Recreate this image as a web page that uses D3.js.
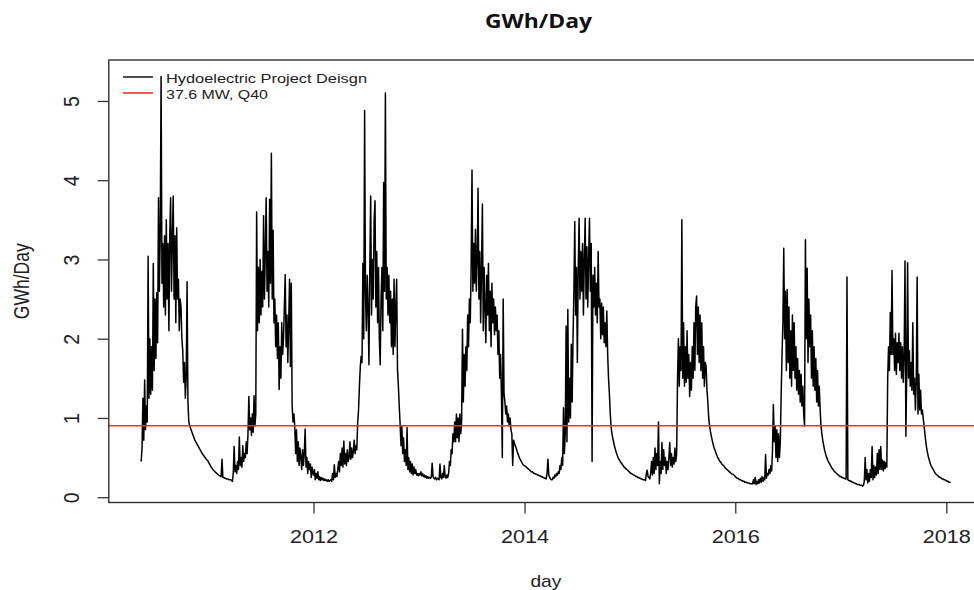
<!DOCTYPE html>
<html>
<head>
<meta charset="utf-8">
<script src="https://cdn.jsdelivr.net/npm/d3@7"></script>
<style>
  body { margin: 0; background: #fff; }
  svg { display: block; }
</style>
</head>
<body>
<svg id="chart" width="974" height="590"></svg>
<script>
// ---- Data -------------------------------------------------------------
const chartTitle = "GWh/Day";
const xAxisTitle = "day";
const yAxisTitle = "GWh/Day";
const seriesName = "Hydoelectric Project Deisgn";
const thresholdName = "37.6 MW, Q40";
const capacityMW = 37.6;          // design capacity; daily energy = MW * 24 h
const stepDays = 3;               // spacing of the samples within each segment

// Daily energy (GWh/day), one value every 3 days from each segment start.
const segmentStarts = ["2010-05-14", "2011-01-01", "2012-01-01", "2013-01-01",
  "2014-01-01", "2015-01-01", "2016-01-01", "2017-01-01", "2018-01-01"];

const flow2010 = [0.45, 0.62, 1.25, 0.72, 1.48, 0.85,
  1.15, 0.95, 3.04, 1.25, 2.0, 1.3,
  1.9, 1.35, 2.95, 1.6, 2.5, 1.75, 2.58, 1.95,
  3.78, 2.6, 3.3, 5.31, 2.7, 3.2,
  2.4, 3.3, 2.3, 3.5, 2.5, 3.2, 2.1, 3.3, 3.78, 2.6, 3.25, 3.8, 2.5, 3.3, 2.2, 3.4, 2.5, 2.75, 2.1, 2.5,
  2.4, 2.0, 1.85, 1.45, 1.7, 1.25, 1.5, 2.72, 1.2, 0.95,
  0.9, 0.87, 0.84, 0.81, 0.78, 0.75, 0.72, 0.7, 0.68, 0.66, 0.64, 0.62, 0.6, 0.58, 0.56, 0.54, 0.53, 0.51, 0.5, 0.48, 0.47, 0.46];

const flow2011 = [0.45, 0.43, 0.41, 0.39, 0.37, 0.36, 0.34, 0.33, 0.32, 0.31, 0.3, 0.29, 0.28, 0.27, 0.27, 0.26,
  0.48, 0.25, 0.25, 0.24, 0.24, 0.23, 0.23, 0.23, 0.22, 0.22, 0.22, 0.21, 0.2,
  0.3, 0.64, 0.32, 0.4, 0.3, 0.45, 0.35, 0.76, 0.4, 0.5, 0.38, 0.65, 0.45, 0.55, 0.5, 0.7, 0.55,
  0.8, 1.27, 0.85, 1.0, 0.78, 1.05, 0.82, 1.28, 0.9, 1.05, 3.6,
  2.1, 2.9, 2.2, 3.0, 2.3, 2.85, 2.4, 3.55, 2.5, 3.1, 3.78, 2.6, 3.1, 2.4, 3.76, 2.7, 4.34, 2.5, 3.37,
  2.2, 2.5, 1.9, 2.3, 1.75, 2.2, 1.36, 1.9, 1.5, 2.2, 1.8,
  2.0, 2.4, 2.81, 1.9, 2.3, 1.7, 2.2, 2.75, 1.65, 2.7,
  1.15, 0.95, 1.05, 0.9,
  0.55, 0.85, 0.45, 0.7, 0.4, 0.62, 0.5, 0.35, 0.6, 0.4, 0.55, 0.86, 0.38, 0.5, 0.3, 0.45, 0.35, 0.42, 0.25, 0.38, 0.3];

const flow2012 = [0.28, 0.35, 0.22, 0.3, 0.24, 0.32, 0.22, 0.26, 0.21, 0.25, 0.22, 0.24, 0.21, 0.23, 0.21, 0.22, 0.2, 0.22, 0.2, 0.21,
  0.22, 0.2, 0.3, 0.22, 0.41, 0.25, 0.3, 0.26,
  0.35, 0.45, 0.32, 0.55, 0.4, 0.62, 0.38, 0.71, 0.42, 0.55, 0.4, 0.6, 0.45, 0.5, 0.7, 0.48, 0.62, 0.5, 0.58, 0.72, 0.55, 0.65, 0.6,
  0.94, 1.1, 1.4, 1.64, 1.78, 1.7,
  2.95, 2.0, 4.88, 2.6, 2.1, 2.8,
  2.4, 1.67, 2.9, 3.8, 2.3, 3.0, 2.5, 3.5, 3.74, 2.4, 3.1, 2.2, 2.9, 2.0, 1.67, 2.5, 2.9, 2.1, 3.97,
  2.6, 5.1, 2.5, 2.9, 2.3, 2.8, 2.2, 2.6, 1.9, 2.5, 1.8, 2.75, 1.9, 2.4, 2.75, 1.6,
  1.4, 1.15, 0.92, 0.65, 0.9, 0.55, 0.75, 0.45, 0.6, 0.4, 0.88, 0.35, 0.5, 0.32, 0.45,
  0.3, 0.42, 0.28, 0.38, 0.3, 0.35, 0.28, 0.3, 0.27];

const flow2013 = [0.3, 0.28, 0.32, 0.27, 0.3, 0.26, 0.28, 0.25, 0.27, 0.24, 0.26, 0.24, 0.25,
  0.24, 0.25, 0.43, 0.26, 0.24, 0.23, 0.25, 0.22, 0.24, 0.23, 0.22, 0.42, 0.25, 0.23, 0.3, 0.25, 0.4, 0.26, 0.24, 0.28, 0.25,
  0.3, 0.45, 0.4, 0.6, 0.55, 0.8, 0.7,
  0.95, 0.7, 1.05, 0.75, 1.0, 0.7, 1.05, 0.8, 0.95, 2.12,
  1.2, 1.8, 1.4, 1.9, 1.6, 2.3, 1.9,
  2.5, 2.2, 2.9, 4.13, 2.6,
  3.2, 2.7, 3.38, 2.6, 3.0, 3.9, 2.5, 3.1, 2.2, 2.9, 3.7, 2.1, 2.9, 2.4, 1.95, 2.8, 2.3, 2.95, 2.1, 2.6, 1.9, 2.7, 2.2, 2.5, 2.05, 2.4, 2.1, 2.3,
  1.8, 2.1, 1.5, 1.8, 1.3, 0.5, 2.5, 1.3, 1.2, 1.05,
  1.15, 0.95, 1.05, 0.9, 1.0, 0.85,
  0.8, 0.4, 0.72, 0.68, 0.65, 0.62, 0.58, 0.55, 0.52, 0.49, 0.47, 0.45, 0.43, 0.41, 0.4];

const flow2014 = [0.4, 0.39, 0.38, 0.37, 0.36, 0.35, 0.34, 0.33, 0.32, 0.32, 0.31, 0.3, 0.3, 0.29, 0.29, 0.28, 0.28, 0.27, 0.27, 0.26, 0.26, 0.25, 0.25, 0.24, 0.24, 0.23,
  0.3, 0.48, 0.28, 0.25, 0.23, 0.22, 0.22, 0.25, 0.24, 0.28, 0.26, 0.3, 0.28,
  0.32, 0.3, 0.4, 0.35, 0.5, 0.4, 1.13, 0.55, 0.8,
  2.16, 0.7, 2.37,
  0.95, 1.5, 1.0, 1.93, 1.2,
  2.0, 2.6, 3.48, 2.3, 2.9,
  1.7, 2.9, 3.52, 2.5, 3.1, 2.6, 3.2, 2.3, 3.0, 3.52, 2.5, 3.16, 2.4, 3.0, 3.52, 2.6, 3.2, 0.45,
  2.8, 2.4, 2.9, 2.3, 2.7, 2.2, 3.1, 2.4, 2.5, 2.0, 2.45, 2.05, 2.4, 1.95, 2.2, 1.9, 2.35,
  1.8, 1.5, 1.3, 1.05,
  0.88, 0.8, 0.74, 0.69, 0.64, 0.6, 0.56, 0.53, 0.5, 0.48, 0.46, 0.44, 0.43, 0.41, 0.4, 0.38, 0.37, 0.36, 0.35, 0.34, 0.33, 0.32];

const flow2015 = [0.31, 0.3, 0.3, 0.29, 0.28, 0.28, 0.27, 0.26, 0.26, 0.25, 0.25, 0.24, 0.24, 0.23, 0.23, 0.22, 0.22, 0.22, 0.21, 0.3, 0.34, 0.26,
  0.25, 0.23, 0.3, 0.45, 0.28, 0.5, 0.3, 0.62, 0.35, 0.55, 0.4, 0.95, 0.17, 0.45, 0.3, 0.69, 0.35, 0.6, 0.4, 0.5, 0.3, 0.45, 0.35, 0.5, 0.69, 0.4, 0.55, 0.38, 0.5, 0.42, 0.62, 0.45, 0.55,
  1.5, 2.0, 1.4, 1.9, 1.6, 3.5, 1.5, 2.2, 1.4,
  1.9, 1.45, 2.1, 1.5, 1.8, 1.27, 1.7, 1.35, 1.9, 1.5, 2.2, 1.6, 2.4, 2.54, 1.8, 2.4,
  1.7, 2.3, 1.6, 2.2, 1.5, 1.9, 1.4, 1.7, 1.65, 1.35, 1.2,
  1.0, 0.9, 0.83, 0.77, 0.72, 0.67, 0.63, 0.6, 0.57, 0.54, 0.51, 0.49, 0.47, 0.45, 0.44, 0.42, 0.41, 0.4, 0.39, 0.37, 0.36, 0.35, 0.34, 0.33, 0.32, 0.31, 0.3, 0.29, 0.29, 0.28, 0.27];

const flow2016 = [0.26, 0.25, 0.24, 0.24, 0.23, 0.22, 0.22, 0.21, 0.21, 0.2, 0.2, 0.19, 0.19, 0.19, 0.18, 0.18, 0.18, 0.17, 0.17, 0.17, 0.17,
  0.22, 0.17, 0.25, 0.16, 0.2, 0.17, 0.22, 0.18, 0.24, 0.19, 0.26, 0.2, 0.25, 0.22, 0.54, 0.24, 0.3,
  0.28, 0.35, 0.3, 0.4, 0.33, 0.6, 1.17, 0.7,
  0.9, 0.5, 0.85, 0.45, 0.8, 0.5, 0.7,
  1.3, 1.8, 2.2, 3.14, 2.0, 2.6, 1.6, 2.62,
  1.7, 2.4, 1.5, 2.1, 1.4, 2.3, 1.6, 2.2, 1.5, 1.9, 1.35, 1.75, 1.3, 1.6, 1.2, 1.55, 1.15, 1.4, 1.05, 0.9,
  3.25, 2.0, 2.89, 1.7, 2.5, 1.9,
  2.3, 1.5, 2.1, 1.4, 1.9, 1.35, 1.75, 1.2, 1.6, 1.15, 1.4, 1.1,
  0.9, 0.8, 0.72, 0.66, 0.6, 0.56, 0.52, 0.49, 0.46, 0.44, 0.42, 0.4, 0.38, 0.36, 0.35, 0.33, 0.32, 0.31, 0.3, 0.29, 0.28, 0.27, 0.26];

const flow2017 = [0.26, 0.25, 0.25, 0.24, 0.24, 0.23, 0.23,
  2.78,
  0.22, 0.21, 0.21, 0.2, 0.2, 0.19, 0.19, 0.18, 0.18, 0.17, 0.17, 0.16, 0.16, 0.16, 0.15, 0.15, 0.15, 0.14, 0.15,
  0.2, 0.5, 0.22, 0.35, 0.18, 0.3, 0.2, 0.35, 0.25, 0.64, 0.22, 0.4, 0.25, 0.38, 0.28, 0.55, 0.3, 0.6, 0.35, 0.64, 0.35, 0.47, 0.33, 0.45, 0.36, 0.44, 0.38,
  1.5, 1.9, 1.6, 2.33, 1.8, 2.86, 1.8,
  2.0, 1.6, 2.07, 1.55, 1.95, 1.7, 2.07, 1.6, 1.95, 1.5, 1.9, 1.45, 1.8, 2.98, 0.77, 1.6,
  2.96, 1.5, 1.85, 1.4, 1.7, 1.35, 2.2, 1.3, 1.5, 1.1, 1.45, 2.78, 1.05, 1.55, 1.1, 1.35, 1.05, 1.1, 1.0,
  0.9, 0.8, 0.7, 0.62, 0.56, 0.51, 0.47, 0.43, 0.4, 0.38, 0.36, 0.34, 0.32, 0.3, 0.29, 0.28, 0.27, 0.26, 0.25, 0.25, 0.24, 0.23, 0.23, 0.22, 0.22, 0.21];

const flow2018 = [0.21, 0.2, 0.2, 0.19, 0.19, 0.19];

const segments = [flow2010, flow2011, flow2012, flow2013, flow2014,
  flow2015, flow2016, flow2017, flow2018];

const yTicks = [0, 1, 2, 3, 4, 5];
const xTickYears = [2012, 2014, 2016, 2018];

// ---- Build the series ---------------------------------------------------
const parseDay = d3.utcParse("%Y-%m-%d");
const series = [];
segments.forEach((vals, s) => {
  const start = parseDay(segmentStarts[s]);
  vals.forEach((v, i) => series.push({ date: d3.utcDay.offset(start, i * stepDays), value: v }));
});
const threshold = capacityMW * 24 / 1000;   // GWh per day at full capacity

// ---- Layout -----------------------------------------------------------
const plot = { left: 108.8, right: 983, top: 60, bottom: 502.5 };
const svg = d3.select("#chart");

// R-style 4% padding around the data range
const xExt = d3.extent(series, d => d.date);
const xPad = (xExt[1] - xExt[0]) * 0.04;
const x = d3.scaleUtc()
  .domain([new Date(+xExt[0] - xPad), new Date(+xExt[1] + xPad)])
  .range([plot.left, plot.right]);

const yExt = d3.extent(series, d => d.value);
const yPad = (yExt[1] - yExt[0]) * 0.04;
const y = d3.scaleLinear()
  .domain([yExt[0] - yPad, yExt[1] + yPad])
  .range([plot.bottom, plot.top]);

const axisColor = "#333";
const labelFont = "'Liberation Sans', Arial, sans-serif";

// ---- Title ------------------------------------------------------------
svg.append("text")
  .attr("x", 538.5).attr("y", 27.5)
  .attr("text-anchor", "middle")
  .attr("font-family", "'Open Sans', 'Noto Sans', sans-serif")
  .attr("font-weight", 700)
  .attr("font-size", 19)
  .attr("textLength", 107)
  .attr("lengthAdjust", "spacingAndGlyphs")
  .attr("fill", "#111")
  .text(chartTitle);

// ---- Clip for the plotting region --------------------------------------
svg.append("clipPath").attr("id", "plotClip")
  .append("rect")
  .attr("x", plot.left).attr("y", plot.top)
  .attr("width", plot.right - plot.left).attr("height", plot.bottom - plot.top);

const plotG = svg.append("g").attr("clip-path", "url(#plotClip)");

// Daily energy series
const line = d3.line().x(d => x(d.date)).y(d => y(d.value));
plotG.append("path")
  .datum(series)
  .attr("d", line)
  .attr("fill", "none")
  .attr("stroke", "#000")
  .attr("stroke-width", 1.5)
  .attr("stroke-linejoin", "round");

// Capacity threshold line
plotG.append("line")
  .attr("x1", plot.left).attr("x2", plot.right)
  .attr("y1", y(threshold)).attr("y2", y(threshold))
  .attr("stroke", "#f23232")
  .attr("stroke-width", 1.6);

// ---- Axes ---------------------------------------------------------------
const xAxis = d3.axisBottom(x)
  .tickValues(xTickYears.map(yr => new Date(Date.UTC(yr, 0, 1))))
  .tickFormat(d3.utcFormat("%Y"))
  .tickSize(11)
  .tickPadding(16);

const gx = svg.append("g")
  .attr("transform", `translate(0,${plot.bottom})`)
  .call(xAxis);
gx.select(".domain").remove();
gx.selectAll(".tick line").attr("stroke", axisColor).attr("stroke-width", 1.3);
gx.selectAll(".tick text")
  .attr("font-family", labelFont)
  .attr("font-size", 18.5)
  .attr("fill", "#222")
  .attr("textLength", 48)
  .attr("lengthAdjust", "spacingAndGlyphs");

const yAxis = d3.axisLeft(y)
  .tickValues(yTicks)
  .tickFormat(d3.format("d"))
  .tickSize(11);

const gy = svg.append("g")
  .attr("transform", `translate(${plot.left},0)`)
  .call(yAxis);
gy.select(".domain").remove();
gy.selectAll(".tick line").attr("stroke", axisColor).attr("stroke-width", 1.3);
gy.selectAll(".tick text")
  .attr("transform", "scale(1.1,1) rotate(-90)")
  .attr("x", 0).attr("y", -27).attr("dy", 0)
  .attr("text-anchor", "middle")
  .attr("font-family", labelFont)
  .attr("font-size", 19.5)
  .attr("fill", "#222");

// Plot frame
svg.append("rect")
  .attr("x", plot.left).attr("y", plot.top)
  .attr("width", plot.right - plot.left).attr("height", plot.bottom - plot.top)
  .attr("fill", "none")
  .attr("stroke", axisColor)
  .attr("stroke-width", 1.4);

// Axis titles
svg.append("text")
  .attr("x", (plot.left + plot.right) / 2).attr("y", 587)
  .attr("text-anchor", "middle")
  .attr("font-family", labelFont)
  .attr("font-size", 17)
  .attr("textLength", 31)
  .attr("lengthAdjust", "spacingAndGlyphs")
  .attr("fill", "#222")
  .text(xAxisTitle);

svg.append("text")
  .attr("transform", `translate(29,${(plot.top + plot.bottom) / 2}) scale(1.15,1) rotate(-90)`)
  .attr("text-anchor", "middle")
  .attr("font-family", labelFont)
  .attr("font-size", 19)
  .attr("textLength", 76)
  .attr("lengthAdjust", "spacingAndGlyphs")
  .attr("fill", "#222")
  .text(yAxisTitle);

// ---- Legend -------------------------------------------------------------
const legendItems = [
  { label: seriesName, color: "#000", width: 1.4, textLen: 201 },
  { label: thresholdName, color: "#f23232", width: 1.6, textLen: 102 }
];
const legend = svg.append("g");
legendItems.forEach((item, i) => {
  const ly = 77 + i * 16;
  legend.append("line")
    .attr("x1", 123).attr("x2", 153)
    .attr("y1", ly).attr("y2", ly)
    .attr("stroke", item.color)
    .attr("stroke-width", item.width);
  legend.append("text")
    .attr("x", 166).attr("y", ly + 5.5)
    .attr("font-family", labelFont)
    .attr("font-size", 13)
    .attr("textLength", item.textLen)
    .attr("lengthAdjust", "spacingAndGlyphs")
    .attr("fill", "#222")
    .text(item.label);
});
</script>
</body>
</html>
